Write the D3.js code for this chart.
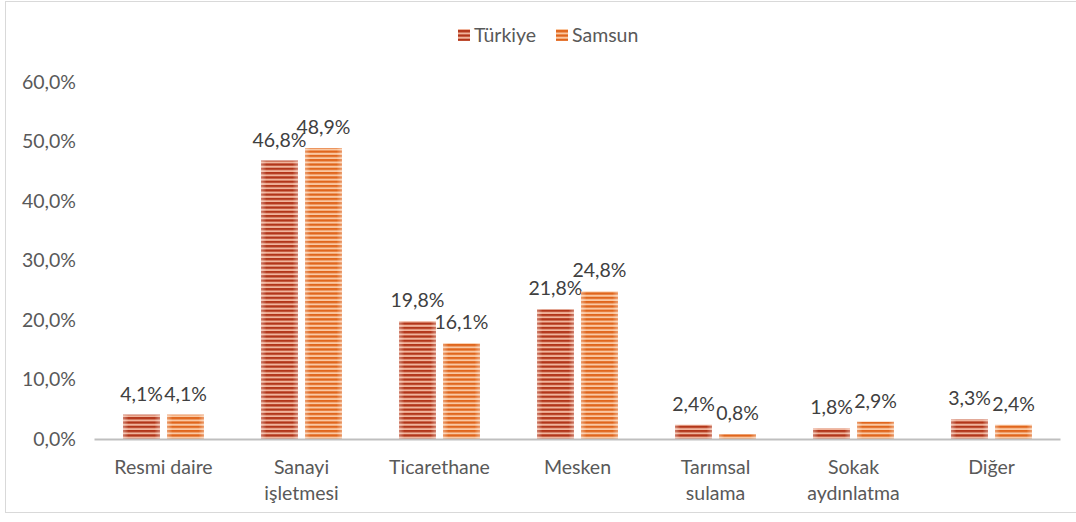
<!DOCTYPE html>
<html><head><meta charset="utf-8">
<script src="https://cdn.jsdelivr.net/npm/d3@7"></script>
<style>
body{margin:0;background:#fff;}
svg text{font-family:Lato,"Open Sans",sans-serif;fill:#595959;}
</style></head>
<body><svg id="c" width="1076" height="522"></svg>
<script>
const categories = [["Resmi daire"],["Sanayi","işletmesi"],["Ticarethane"],["Mesken"],["Tarımsal","sulama"],["Sokak","aydınlatma"],["Diğer"]];
const seriesNames = ["Türkiye","Samsun"];
const turkiye = [4.1,46.8,19.8,21.8,2.4,1.8,3.3];
const samsun = [4.1,48.9,16.1,24.8,0.8,2.9,2.4];
const yTicks = [0,10,20,30,40,50,60];

const FS = 19.5;
const svg = d3.select("#c");
const defs = svg.append("defs");
const pal = [{dark:"#b2361a",light:"#f0b49c",id:"pT"},{dark:"#e0661d",light:"#fac8a2",id:"pS"}];
pal.forEach(p=>{
  const pt = defs.append("pattern").attr("id",p.id).attr("patternUnits","userSpaceOnUse").attr("width",8).attr("height",4.3);
  pt.append("rect").attr("width",8).attr("height",4.3).attr("fill",p.light);
  pt.append("rect").attr("y",0).attr("width",8).attr("height",2.3).attr("fill",p.dark);
});
const hg = defs.append("linearGradient").attr("id","hg").attr("x1","0").attr("x2","1");
hg.append("stop").attr("offset","0").attr("stop-color","#fff").attr("stop-opacity",0.35);
hg.append("stop").attr("offset","0.15").attr("stop-color","#fff").attr("stop-opacity",0);
hg.append("stop").attr("offset","0.85").attr("stop-color","#fff").attr("stop-opacity",0);
hg.append("stop").attr("offset","1").attr("stop-color","#fff").attr("stop-opacity",0.35);

// frame
svg.append("rect").attr("x",5.5).attr("y",1.5).attr("width",1080).attr("height",511).attr("fill","none").attr("stroke","#d9d9d9");

const x0 = d3.scaleBand().domain(d3.range(categories.length)).range([94.5,1060.5]);
const x1 = d3.scaleBand().domain([0,1]).range([28.5,109.5]).paddingInner(2-81/44);
const y = d3.scaleLinear().domain([0,60]).range([439,82]);

// y labels
svg.append("g").selectAll("text").data(yTicks).join("text")
  .attr("x",76).attr("y",d=>y(d)).attr("dy","0.35em").attr("text-anchor","end")
  .attr("font-size",FS).text(d=>d.toFixed(1).replace(".",",")+"%");

const data = [turkiye,samsun];
data.forEach((vals,si)=>{
  const g = svg.append("g");
  g.selectAll("rect.b").data(vals).join("rect").attr("class","b")
    .attr("x",(d,i)=>x0(i)+x1(si)).attr("width",x1.bandwidth())
    .attr("y",d=>y(d)).attr("height",d=>y(0)-y(d)).attr("fill",`url(#${pal[si].id})`);
  g.selectAll("rect.o").data(vals).join("rect").attr("class","o")
    .attr("x",(d,i)=>x0(i)+x1(si)).attr("width",x1.bandwidth())
    .attr("y",d=>y(d)).attr("height",d=>y(0)-y(d)).attr("fill","url(#hg)");
  g.selectAll("text").data(vals).join("text")
    .attr("x",(d,i)=>x0(i)+x1(si)+x1.bandwidth()/2)
    .attr("y",d=>y(d)-14).attr("text-anchor","middle").attr("font-size",FS)
    .style("fill","#404040")
    .text(d=>d.toFixed(1).replace(".",",")+"%");
});

// axis line
svg.append("line").attr("x1",x0.range()[0]).attr("x2",x0.range()[1]).attr("y1",439.5).attr("y2",439.5)
  .attr("stroke","#bfbfbf").attr("stroke-width",2);

// category labels
const cl = svg.append("g").selectAll("text").data(categories).join("text")
  .attr("x",(d,i)=>x0(i)+x0.bandwidth()/2).attr("y",474).attr("text-anchor","middle").attr("font-size",FS);
cl.selectAll("tspan").data(d=>d).join("tspan")
  .attr("x",function(){return d3.select(this.parentNode).attr("x");})
  .attr("dy",(d,i)=>i===0?0:26).text(d=>d);

// legend
const lg = svg.append("g");
const lx = [458,556];
seriesNames.forEach((n,i)=>{
  lg.append("rect").attr("x",lx[i]).attr("y",29).attr("width",12).attr("height",12).attr("fill",`url(#${pal[i].id})`);
  lg.append("text").attr("x",lx[i]+16).attr("y",35).attr("dy","0.35em").attr("font-size",FS).text(n);
});
</script></body></html>
